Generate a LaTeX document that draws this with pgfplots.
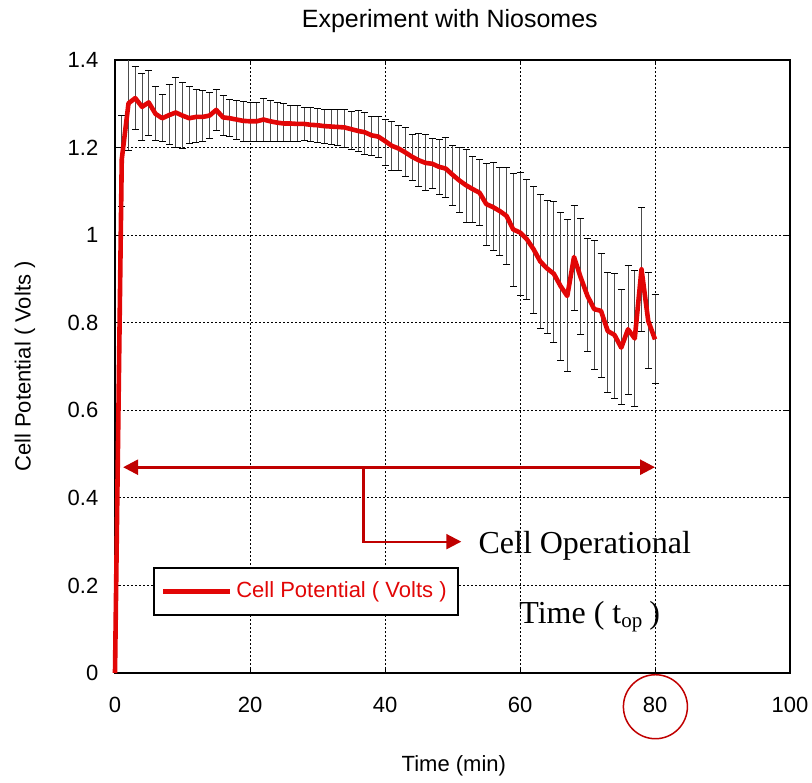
\documentclass[border=0pt]{standalone}
\usepackage{fontspec}
\setmainfont{Liberation Sans}
\newfontfamily\timesfont{Liberation Serif}
\usepackage{pgfplots}
\pgfplotsset{compat=1.18}
\usepackage{pgfplotstable}
\usetikzlibrary{arrows.meta}
\definecolor{linered}{RGB}{226,6,6}
\definecolor{annred}{RGB}{192,0,0}

\pgfplotstableread{
x y lo hi
0 0 0 0
1 1.173 1.065 1.274
2 1.301 1.194 1.400
3 1.313 1.241 1.385
4 1.293 1.217 1.369
5 1.303 1.228 1.376
6 1.277 1.217 1.339
7 1.267 1.215 1.322
8 1.274 1.208 1.344
9 1.280 1.200 1.359
10 1.273 1.199 1.348
11 1.267 1.210 1.339
12 1.270 1.211 1.332
13 1.270 1.215 1.330
14 1.273 1.221 1.326
15 1.286 1.238 1.332
16 1.269 1.227 1.320
17 1.267 1.225 1.309
18 1.264 1.219 1.307
19 1.261 1.215 1.305
20 1.260 1.214 1.303
21 1.260 1.214 1.303
22 1.264 1.214 1.313
23 1.260 1.214 1.307
24 1.257 1.214 1.302
25 1.255 1.214 1.300
26 1.255 1.214 1.297
27 1.254 1.215 1.295
28 1.254 1.216 1.292
29 1.252 1.214 1.291
30 1.251 1.212 1.290
31 1.249 1.210 1.288
32 1.248 1.207 1.288
33 1.247 1.204 1.286
34 1.246 1.201 1.286
35 1.242 1.195 1.283
36 1.238 1.191 1.284
37 1.235 1.185 1.280
38 1.228 1.182 1.272
39 1.225 1.178 1.270
40 1.215 1.160 1.265
41 1.204 1.148 1.259
42 1.198 1.147 1.251
43 1.189 1.133 1.246
44 1.179 1.125 1.230
45 1.171 1.112 1.233
46 1.165 1.103 1.229
47 1.163 1.107 1.221
48 1.156 1.093 1.219
49 1.152 1.086 1.223
50 1.138 1.067 1.205
51 1.125 1.051 1.200
52 1.114 1.029 1.196
53 1.105 1.028 1.179
54 1.097 1.023 1.173
55 1.071 0.976 1.163
56 1.064 0.964 1.165
57 1.055 0.953 1.154
58 1.044 0.934 1.154
59 1.013 0.883 1.141
60 1.006 0.863 1.143
61 0.991 0.854 1.128
62 0.968 0.822 1.112
63 0.940 0.787 1.093
64 0.924 0.776 1.080
65 0.912 0.755 1.076
66 0.884 0.713 1.052
67 0.861 0.688 1.036
68 0.950 0.827 1.068
69 0.903 0.774 1.038
70 0.861 0.734 0.993
71 0.831 0.694 0.987
72 0.827 0.676 0.959
73 0.781 0.640 0.915
74 0.772 0.627 0.913
75 0.743 0.614 0.875
76 0.785 0.637 0.931
77 0.764 0.608 0.920
78 0.922 0.779 1.063
79 0.804 0.695 0.915
80 0.762 0.662 0.865
}\data

\begin{document}
\begin{tikzpicture}
\useasboundingbox (-57.5pt,-54.5pt) rectangle (348.5pt,336.5pt);
\begin{axis}[
  at={(0,0)}, anchor=south west,
  scale only axis, width=337.5pt, height=306.5pt,
  xmin=0, xmax=100, ymin=0, ymax=1.4,
  xtick={0,20,40,60,80,100},
  ytick={0,0.2,0.4,0.6,0.8,1,1.2,1.4},
  /pgf/number format/assume math mode=true,
  tick label style={font=\fontsize{11pt}{13pt}\selectfont},
  xticklabel style={yshift=-8.3pt},
  yticklabel style={xshift=-4.8pt},
  grid=major,
  major grid style={black, line width=0.5pt, dash pattern=on 1pt off 1pt},
  axis line style={black, line width=0.75pt},
  tick style={black, line width=0.5pt},
  major tick length=2.5pt, tick align=inside,
  clip=false,
  title={Experiment with Niosomes},
  every axis title/.style={at={(axis description cs:0.496,1.0628)}, anchor=center, font=\fontsize{12.5pt}{15pt}\selectfont},
  xlabel={Time (min)},
  every axis x label/.style={at={(axis description cs:0.502,-0.1517)}, anchor=center, font=\fontsize{11pt}{13pt}\selectfont},
  ylabel={Cell Potential ( Volts )},
  every axis y label/.style={at={(axis description cs:-0.1333,0.5)}, rotate=90, anchor=center, font=\fontsize{11pt}{13pt}\selectfont},
  legend style={at={(axis description cs:0.056,0.173)}, anchor=north west, draw=black, line width=0.9pt, fill=white, font=\fontsize{11pt}{13pt}\selectfont, inner xsep=3.5pt, inner ysep=5pt},
  legend cell align=left,
  legend image code/.code={\draw[#1] (0pt,0pt) -- (33.5pt,0pt);},
]
\addplot[black!70, line width=0.5pt, mark=none, forget plot,
  skip coords between index={0}{1},
  error bars/.cd, y dir=both, y explicit,
  error bar style={black!70, line width=0.5pt},
  error mark options={rotate=90, black, mark size=1.75pt, line width=0.5pt}]
  table[x=x, y=y, y error plus expr=\thisrow{hi}-\thisrow{y}, y error minus expr=\thisrow{y}-\thisrow{lo}] {\data};
\addplot[linered, line width=2.3pt, mark=none, line join=round] table[x=x, y=y] {\data};
\addlegendentry{\textcolor{linered}{Cell Potential ( Volts )}}

\draw[annred, line width=1.3pt, {Triangle[length=7.5pt,width=7.5pt]}-{Triangle[length=7.5pt,width=7.5pt]}] (axis cs:1.2,0.47) -- (axis cs:80,0.47);
\draw[annred, line width=1.1pt, -{Triangle[length=7.5pt,width=7.5pt]}] (axis cs:36.8,0.47) |- (axis cs:51.3,0.30);
\node[anchor=base west, inner sep=0pt, font=\timesfont\fontsize{16pt}{19pt}\selectfont] at (axis cs:53.8,0.272) {Cell Operational};
\node[anchor=base west, inner sep=0pt, font=\timesfont\fontsize{16pt}{19pt}\selectfont] at (axis cs:59.85,0.114) {Time ( t\raisebox{-2.2pt}{\fontsize{10.5pt}{12pt}\selectfont op}\hspace{0.22em})};
\draw[annred, line width=0.75pt] (axis cs:80.06,-0.077) circle[radius=16pt];
\end{axis}
\end{tikzpicture}
\end{document}
